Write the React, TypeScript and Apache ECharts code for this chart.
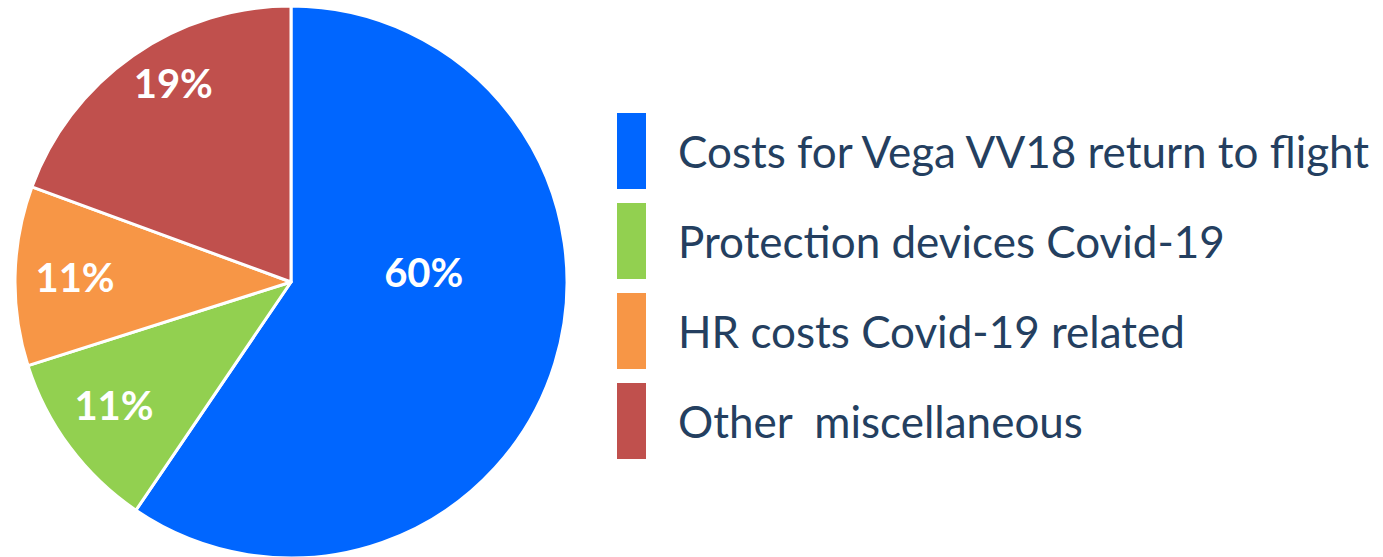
import React, { useEffect, useRef } from "react";
import * as echarts from "echarts";

const categories = [
  "Costs for Vega VV18 return to flight",
  "Protection devices Covid-19",
  "HR costs Covid-19 related",
  "Other  miscellaneous",
];
const values = [59.5, 10.6, 10.5, 19.4];
const colors = ["#0066FF", "#92D050", "#F79646", "#C0504D"];
const labelOffsets = [
  [-2, -51],
  [-64, 39],
  [-75, -2],
  [-37, -83],
];

export default function App() {
  const ref = useRef<HTMLDivElement>(null);
  useEffect(() => {
    if (!ref.current) return;
    const chart = echarts.init(ref.current, undefined, { renderer: "svg" });
    chart.setOption({
      animation: false,
      backgroundColor: "#ffffff",
      legend: {
        orient: "vertical",
        left: 615,
        top: 111,
        padding: 0,
        itemWidth: 31,
        itemHeight: 78,
        itemGap: 10,
        icon: "rect",
        selectedMode: false,
        data: categories,
        textStyle: {
          color: "#243F60",
          fontSize: 44,
          fontFamily: "Lato",
          padding: [0, 0, 0, 26],
        },
      },
      series: [
        {
          type: "pie",
          center: [291, 282],
          radius: 276,
          startAngle: 90,
          clockwise: true,
          avoidLabelOverlap: false,
          label: {
            show: true,
            position: "inside",
            color: "#ffffff",
            fontSize: 40,
            fontWeight: "bold",
            fontFamily: "Lato",
            formatter: (p: any) => `${Math.round(p.value)}%`,
          },
          labelLine: { show: false },
          itemStyle: { borderColor: "#ffffff", borderWidth: 3 },
          emphasis: { disabled: true },
          data: categories.map((name, i) => ({
            name,
            value: values[i],
            itemStyle: { color: colors[i] },
            label: { offset: labelOffsets[i] },
          })),
        },
      ],
    });
    return () => chart.dispose();
  }, []);
  return (
    <div
      ref={ref}
      style={{ position: "fixed", left: 0, top: 0, width: 1383, height: 557 }}
    />
  );
}
